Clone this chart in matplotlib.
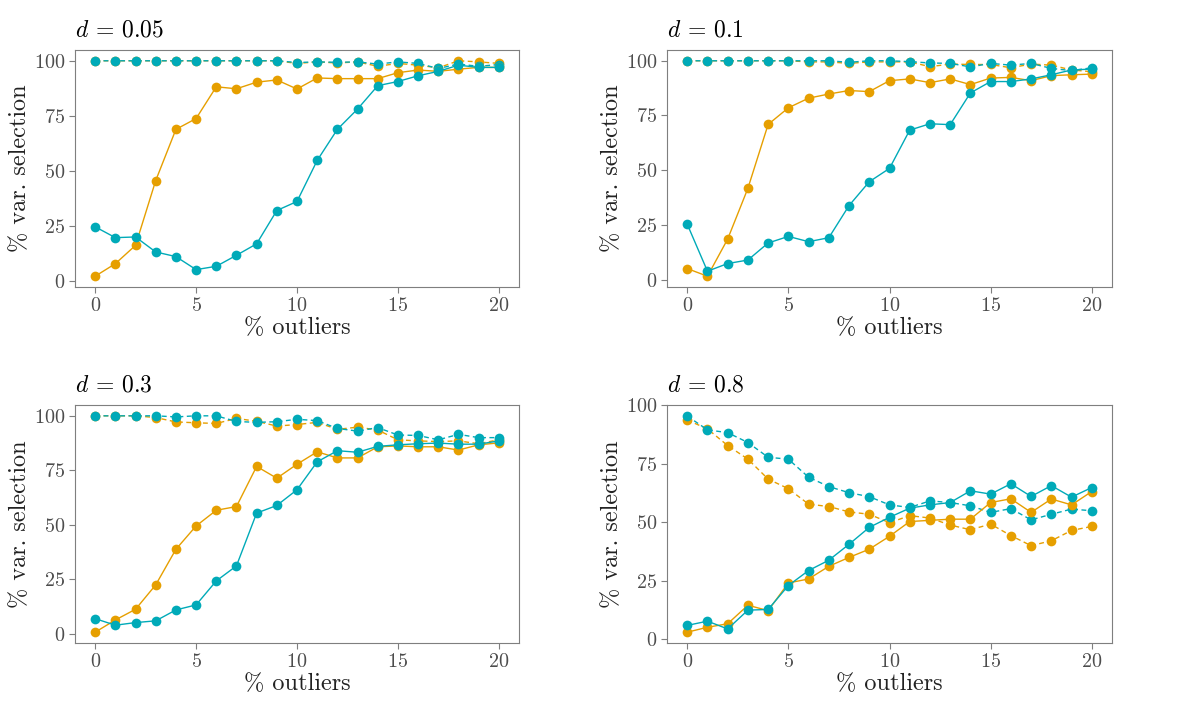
import matplotlib
matplotlib.use("Agg")
import matplotlib.pyplot as plt

plt.rcParams['font.family'] = ['cmr10', 'DejaVu Serif']
plt.rcParams['mathtext.fontset'] = 'cm'
plt.rcParams['axes.formatter.use_mathtext'] = True

outliers = list(range(21))
panel_titles = [r'$d$ = 0.05', r'$d$ = 0.1', r'$d$ = 0.3', r'$d$ = 0.8']

# d = 0.05
p1_orange_solid = [2.3, 8.0, 16.3, 45.7, 68.9, 73.8, 88.2, 87.3, 90.3, 91.3, 87.2,
                   92.2, 91.9, 91.9, 91.9, 94.6, 95.8, 95.2, 96.2, 97.0, 97.0]
p1_cyan_solid = [24.7, 19.8, 20.1, 13.3, 11.2, 5.3, 6.8, 11.8, 17.0, 32.1, 36.2,
                 54.8, 68.9, 78.1, 88.7, 90.6, 93.2, 95.2, 98.0, 97.0, 97.0]
p1_orange_dash = [100, 100, 100, 100, 100, 100, 100, 100, 100, 100, 98.8,
                  99.5, 99.0, 99.5, 97.5, 98.8, 98.0, 96.8, 100, 99.5, 98.8]
p1_cyan_dash = [100, 100, 100, 100, 100, 100, 100, 100, 100, 100, 99.2,
                99.5, 99.3, 99.5, 98.5, 99.5, 98.8, 96.5, 98.5, 97.5, 98.3]

# d = 0.1
p2_orange_solid = [5.0, 1.5, 18.5, 41.7, 70.9, 78.5, 82.9, 84.8, 86.4, 85.9, 90.9,
                   91.7, 90.0, 91.7, 89.1, 92.1, 92.4, 90.9, 93.2, 93.6, 93.9]
p2_cyan_solid = [25.3, 3.8, 7.3, 8.9, 16.7, 19.7, 17.3, 19.1, 33.8, 44.7, 50.8,
                 68.3, 71.2, 70.8, 85.3, 90.5, 90.5, 91.7, 93.6, 95.8, 96.2]
p2_orange_dash = [100, 100, 100, 100, 100, 100, 99.5, 99.5, 98.8, 99.5, 99.5,
                  99.5, 97.3, 98.5, 98.3, 98.3, 96.8, 98.5, 98.0, 95.8, 95.0]
p2_cyan_dash = [100, 100, 100, 100, 100, 100, 100, 100, 99.3, 100, 100,
                99.6, 99.0, 98.8, 97.2, 98.8, 98.0, 98.8, 96.5, 95.5, 96.8]

# d = 0.3
p3_orange_solid = [0.8, 6.4, 11.3, 22.5, 38.8, 49.5, 56.7, 58.4, 76.8, 71.4, 77.8,
                   83.5, 80.7, 80.7, 85.8, 86.2, 85.8, 85.8, 84.3, 86.7, 87.6]
p3_cyan_solid = [7.0, 4.0, 5.2, 6.0, 11.0, 13.3, 24.3, 31.2, 55.4, 58.9, 66.1,
                 78.9, 84.0, 83.3, 86.0, 86.7, 87.2, 87.5, 87.0, 87.0, 88.5]
p3_orange_dash = [100, 100, 100, 99.2, 97.2, 96.8, 96.5, 98.8, 97.5, 95.3, 96.0,
                  97.0, 93.8, 94.8, 93.5, 89.0, 88.5, 88.2, 88.5, 87.2, 89.0]
p3_cyan_dash = [100, 100, 100, 100, 99.5, 100, 100, 97.4, 97.0, 97.3, 98.4,
                97.8, 94.2, 93.0, 94.6, 91.2, 91.0, 89.0, 91.5, 90.0, 90.0]

# d = 0.8
p4_orange_solid = [3.1, 5.2, 6.7, 14.6, 12.3, 24.1, 25.8, 31.2, 35.0, 38.5, 44.0,
                   50.3, 50.8, 51.3, 51.3, 58.4, 60.0, 54.2, 59.9, 57.4, 63.1]
p4_cyan_solid = [6.0, 7.8, 4.5, 12.5, 12.8, 23.0, 29.4, 33.8, 40.6, 47.8, 52.1,
                 56.0, 57.4, 58.4, 63.4, 62.0, 66.4, 61.0, 65.6, 60.7, 64.8]
p4_orange_dash = [93.6, 89.8, 82.7, 76.9, 68.4, 64.3, 57.7, 56.7, 54.4, 53.4, 49.8,
                  52.8, 51.8, 48.8, 46.8, 49.2, 44.3, 40.0, 42.1, 46.5, 48.2]
p4_cyan_dash = [95.3, 89.4, 88.2, 84.0, 77.7, 76.9, 69.2, 65.2, 62.6, 60.9, 57.4,
                56.3, 59.1, 58.4, 57.0, 54.2, 55.8, 51.0, 53.4, 55.6, 54.9]

panels = [
    (p1_orange_solid, p1_cyan_solid, p1_orange_dash, p1_cyan_dash),
    (p2_orange_solid, p2_cyan_solid, p2_orange_dash, p2_cyan_dash),
    (p3_orange_solid, p3_cyan_solid, p3_orange_dash, p3_cyan_dash),
    (p4_orange_solid, p4_cyan_solid, p4_orange_dash, p4_cyan_dash),
]

ORANGE = '#E69F00'
CYAN = '#00AAB8'
GREY = '#7f7f7f'

W, H = 1179, 702
fig = plt.figure(figsize=(W / 100, H / 100), dpi=100)
fig.patch.set_facecolor('white')

# axes boxes in pixels: left, right, top, bottom
boxes = [(75, 519, 50, 287), (667, 1112, 50, 287),
         (75, 519, 405, 643), (667, 1112, 405, 643)]

dash = (0, (3.5, 2.5))
for (l, r, t, b), title, (os_, cs, od, cd) in zip(boxes, panel_titles, panels):
    ax = fig.add_axes([l / W, 1 - b / H, (r - l) / W, (b - t) / H])
    kw = dict(marker='o', markersize=7.0, linewidth=1.0, markeredgewidth=0)
    ax.plot(outliers, od, color=ORANGE, linestyle=dash, **kw)
    ax.plot(outliers, cd, color=CYAN, linestyle=dash, **kw)
    ax.plot(outliers, os_, color=ORANGE, linestyle='-', **kw)
    ax.plot(outliers, cs, color=CYAN, linestyle='-', **kw)
    ax.margins(x=0.05, y=0.05)
    ax.set_xticks([0, 5, 10, 15, 20])
    ax.set_yticks([0, 25, 50, 75, 100])
    for sp in ax.spines.values():
        sp.set_color(GREY)
        sp.set_linewidth(0.8)
    ax.tick_params(colors=GREY, labelcolor='#4d4d4d', labelsize=14.5,
                   length=4, width=0.8, direction='out', pad=3)
    ax.set_xlabel('% outliers', fontsize=17.5, color='#222222', labelpad=2)
    ax.set_ylabel('% var. selection', fontsize=17.5, color='#222222', labelpad=2)
    ax.set_title(title, loc='left', fontsize=17, color='black', pad=10)

fig.savefig('out.png', dpi=100, facecolor='white')
